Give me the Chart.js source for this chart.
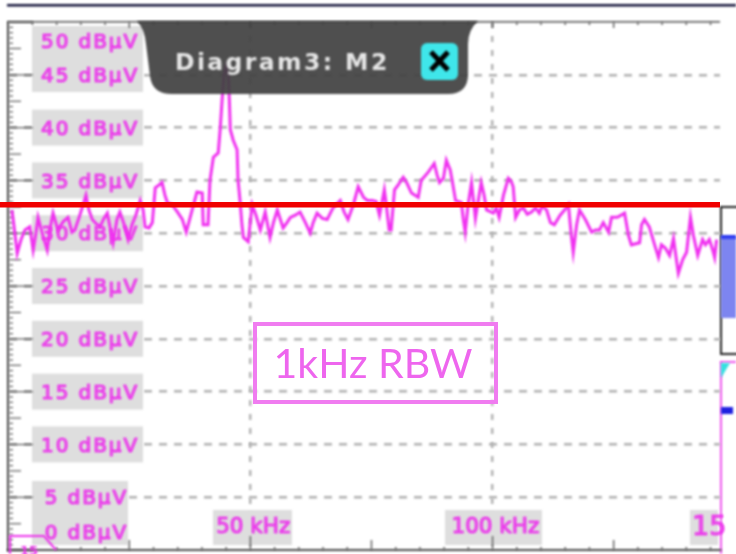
<!DOCTYPE html>
<html><head><meta charset="utf-8">
<style>html,body{margin:0;padding:0;background:#fff}#w{width:736px;height:554px;position:relative;overflow:hidden}</style>
<script src="https://cdn.jsdelivr.net/npm/chart.js@4"></script>
</head><body><div id="w"><canvas id="c" width="736" height="554"></canvas></div>
<script>
const freqKHz=[0.8,1.2,1.9,2.7,3.5,4.5,5.2,5.8,6.2,7.2,8.1,8.7,9.3,10.3,11.4,12.4,13.2,13.8,14.9,15.5,16.1,16.7,17.4,18.2,19,19.8,20.5,21.1,21.7,22.5,23.1,24,24.8,25.6,26.4,27.3,27.9,28.3,29.1,29.8,30.4,31,31.8,32.4,32.9,33.9,35,36,36.8,37.9,39,40.1,40.3,41.3,41.7,42.4,43.4,43.8,44.2,44.6,45,45.5,45.7,45.9,46.5,47.3,47.5,47.9,48.3,48.6,49.6,50.4,51.2,52.1,53.1,54.1,54.8,55.6,56.8,57.6,58.3,59.3,60.3,61.4,62.4,63,63.8,64.9,65.9,67.1,68.6,69.4,70.2,71.3,72.3,73.4,74.2,75.2,76,76.7,77.7,78.1,78.7,79.1,79.8,80.6,81.6,82.4,83.3,84.7,85.3,86.8,88,88.6,89.1,89.9,90.5,91.3,91.7,92.4,93.6,94,94.4,95,95.7,96.1,96.5,97.1,97.7,98.3,98.8,100.2,100.8,101.4,102.3,103.3,103.9,104.3,104.8,105.6,106.4,107.2,108.1,108.9,109.7,110.3,111.2,112,112.8,114,114.9,115.7,116.3,116.7,117.4,118,119.2,120.5,121.3,122.1,122.9,124,124.6,125.8,127.3,128.1,128.7,130.4,130.8,131.4,132.4,133.5,134.3,134.9,135.7,136.6,137.4,138,138.4,139.3,140.1,140.9,141.5,142.4,143.4,144,144.8,145.5,145.9,146.3];
const levelDb=[32.2,30.8,28.1,29.4,30.3,30.6,28.4,30.1,31.5,29.8,28.4,30.5,31.9,30.3,31.1,31.5,30.1,30.3,31.8,32.7,33.6,32.2,31.3,30.9,30.6,31.4,31.9,30.5,29.1,31.3,32,30.8,29.4,30.8,31.7,33.1,32.2,30.6,30.5,31,34.3,34.5,34.8,33.6,32.9,32.7,32,31.3,30.1,32,33.9,33.8,30.8,30.8,35,37.2,37.6,39.8,42.6,45,45.8,45,42.6,39.8,38.8,37.9,35,33.1,30.8,29.6,29.2,32.7,31.7,30.3,32,29.6,31,32.2,30.5,31,31.5,31.7,32,31,30,31,31.9,31.4,31.3,32.4,33.1,32,31.3,32.7,34.4,33.4,33.1,33.1,33,31.7,34.1,32.7,30.3,30.3,34.1,34.6,35.3,34.7,33.8,33.4,35,35.8,36.6,35.5,34.8,35.2,36.9,36,35,33.1,32.9,31.3,30.1,32.7,34.8,33.1,31.4,33.1,34.8,33.6,32.2,31.9,32.4,31.5,33.6,35.2,34.9,34.4,31.5,32.2,32.4,31.8,32,32.4,31.9,32.6,32.2,31,30.8,31.7,32.2,32.7,29.8,28.2,30.8,32.2,31.3,30.1,30.3,30.3,31,30.1,31.5,31.5,31.9,29.8,28.9,29.1,30.8,31.3,30.6,28.9,27.7,28.9,28.6,27.9,29.5,27.5,26.2,27.5,28.2,31.5,29.8,27.9,29.4,28.9,29.4,28.4,27.7,29.4];
const limitKHz=[-1.7,147];
const limitDb=[32.7,32.7];
const yLabelValues=[50,45,40,35,30,25,20,15,10,5,0];
const yLabelTexts=["50 dBµV","45 dBµV","40 dBµV","35 dBµV","30 dBµV","25 dBµV","20 dBµV","15 dBµV","10 dBµV","5 dBµV","0 dBµV"];
const xLabelValues=[50,100,150];
const xLabelTexts=["50 kHz","100 kHz","15"];
const popupTitle="Diagram3: M2";
const noteText="1kHz RBW";

const BLUR='blur(0.8px)', MAG='#ec30ec';
function deco(ctx){
  ctx.fillStyle='#14143a';ctx.fillRect(7,4,729,2.5);
  ctx.strokeStyle='#222';ctx.lineWidth=2;
  ctx.strokeRect(721,207,20,147);
  ctx.fillStyle='#7d85f0';ctx.fillRect(721,237,15,81);
  ctx.fillStyle='#2f3cf0';ctx.fillRect(721,235,15,4);
  ctx.fillStyle='#ee55ee';ctx.fillRect(720,362,2,192);
  ctx.fillStyle='#ee55ee';ctx.fillRect(720,361,16,2);
  ctx.fillStyle='#35e0e0';ctx.beginPath();ctx.moveTo(721,363);ctx.lineTo(730,363);ctx.lineTo(721,378);ctx.closePath();ctx.fill();
  ctx.fillStyle='#2020e0';ctx.fillRect(721,407,12,7);
}
function labels(chart){
  const ctx=chart.ctx,y=chart.scales.y,x=chart.scales.x;
  ctx.save();
  ctx.fillStyle='#dedede';
  ctx.fillRect(32,26,111,66);
  [40,35,30,25,20,15,10].forEach(v=>{const p=y.getPixelForValue(v);ctx.fillRect(32,p-18,111,36);});
  ctx.fillRect(32,481,96,64);
  ctx.fillRect(213,510,79,35);ctx.fillRect(445,510,97,35);ctx.fillRect(690,510,28,35);
  ctx.fillStyle='#5a5a5a';
  for(let i=0;i<=100;i++){const v=i/2,p=y.getPixelForValue(v);
    const len=i%10===0?24:(i%5===0?12:4);
    ctx.fillRect(9,p-0.5,len,1.2);}
  for(let k=5;k<=145;k+=5){const p=x.getPixelForValue(k);
    const len=k%50===0?14:(k%25===0?10:3);
    ctx.fillRect(p-0.5,550-len,1.4,len);
    ctx.fillRect(p-0.5,22,1.4,k%25===0?6:3);}
  ctx.fillRect(8,21,712,1.6);
  ctx.fillStyle=MAG;ctx.strokeStyle=MAG;ctx.lineWidth=0.7;ctx.font='20px "DejaVu Sans"';ctx.textBaseline='middle';ctx.textAlign='right';
  ctx.letterSpacing='1.9px';
  yLabelValues.forEach((v,i)=>{
    let p=y.getPixelForValue(v)+2;
    if(v===50)p=43; if(v===0)p=534; if(v===5)p=499;
    const r=v<=5?128:139;
    ctx.fillText(yLabelTexts[i],r,p);ctx.strokeText(yLabelTexts[i],r,p);
  });
  ctx.textAlign='center';ctx.letterSpacing='0px';
  xLabelValues.forEach((v,i)=>{
    if(v===150){ctx.font='27px "DejaVu Sans"';ctx.textAlign='left';ctx.fillText(xLabelTexts[i],692,528);ctx.strokeText(xLabelTexts[i],692,528);return;}
    ctx.font='21.5px "DejaVu Sans"';const px=x.getPixelForValue(v)+3;ctx.fillText(xLabelTexts[i],px,527);ctx.strokeText(xLabelTexts[i],px,527);
  });
  ctx.lineWidth=2;ctx.beginPath();ctx.moveTo(10,554);ctx.lineTo(10,536);ctx.lineTo(44,536);ctx.lineTo(56,550);ctx.stroke();
  ctx.font='bold 13px "DejaVu Sans"';ctx.textAlign='left';ctx.fillText('15',20,552);
  ctx.restore();
}
function popup(ctx){
  ctx.save();
  ctx.fillStyle='rgba(66,66,66,0.93)';
  ctx.beginPath();ctx.moveTo(137,21);ctx.lineTo(478,21);
  ctx.quadraticCurveTo(468,30,468,44);ctx.lineTo(468,74);
  ctx.quadraticCurveTo(468,94,448,94);ctx.lineTo(172,94);
  ctx.quadraticCurveTo(152,94,150,76);ctx.lineTo(146,44);
  ctx.quadraticCurveTo(145,30,137,21);ctx.closePath();ctx.fill();
  ctx.fillStyle='#e6e6e6';ctx.font='bold 23.5px "DejaVu Sans"';ctx.textBaseline='middle';ctx.textAlign='left';
  ctx.letterSpacing='2.4px';ctx.fillText(popupTitle,175,64);ctx.letterSpacing='0px';
  ctx.fillStyle='#3fe6ea';ctx.beginPath();ctx.roundRect(421,43,37,37,6);ctx.fill();
  ctx.strokeStyle='#000';ctx.lineWidth=5;ctx.beginPath();ctx.moveTo(431,52);ctx.lineTo(448,70);ctx.moveTo(448,52);ctx.lineTo(431,70);ctx.stroke();
  ctx.restore();
}
const sketch={id:'sketch',
  beforeDraw(c){c.ctx.filter=BLUR;deco(c.ctx);},
  beforeDatasetsDraw(c){labels(c);},
  beforeDatasetDraw(c,a){c.ctx.filter=a.index===1?'none':BLUR;},
  afterDatasetDraw(c){c.ctx.filter=BLUR;},
  afterDatasetsDraw(c){
    const ctx=c.ctx;popup(ctx);ctx.filter='none';
    ctx.save();ctx.strokeStyle='#f07cf0';ctx.lineWidth=4;ctx.strokeRect(255,324,241,78);
    ctx.fillStyle='#ee66ee';ctx.font='41px Lato';ctx.textAlign='center';ctx.textBaseline='middle';
    ctx.fillText(noteText,373,365);ctx.restore();
  }
};
const pts=(xs,ys)=>xs.map((x,i)=>({x,y:ys[i]}));
new Chart(document.getElementById('c'),{
  type:'line',
  data:{datasets:[
    {data:pts(freqKHz,levelDb),borderColor:'#f030f0',borderWidth:3,pointRadius:0,tension:0,order:2},
    {data:pts(limitKHz,limitDb),borderColor:'#f00000',borderWidth:5.5,pointRadius:0,tension:0,clip:false,order:1}
  ]},
  plugins:[sketch],
  options:{responsive:false,animation:false,devicePixelRatio:1,
    layout:{padding:{left:8,top:22,right:16,bottom:4}},
    plugins:{legend:{display:false},tooltip:{enabled:false}},
    scales:{
      x:{type:'linear',min:0,max:147,afterBuildTicks(s){s.ticks=[{value:50},{value:100}];},
        ticks:{display:false},
        grid:{color:'#b0b0b0',lineWidth:2.4,drawTicks:false},
        border:{color:'#4a4a4a',width:2,dash:[6,8]}},
      y:{type:'linear',min:0,max:50,afterBuildTicks(s){s.ticks=[5,10,15,20,25,30,35,40,45].map(value=>({value}));},
        ticks:{display:false},
        grid:{color:'#b0b0b0',lineWidth:2.4,drawTicks:false},
        border:{color:'#4a4a4a',width:2,dash:[8,7]}}
    }
  }
});
</script></body></html>
